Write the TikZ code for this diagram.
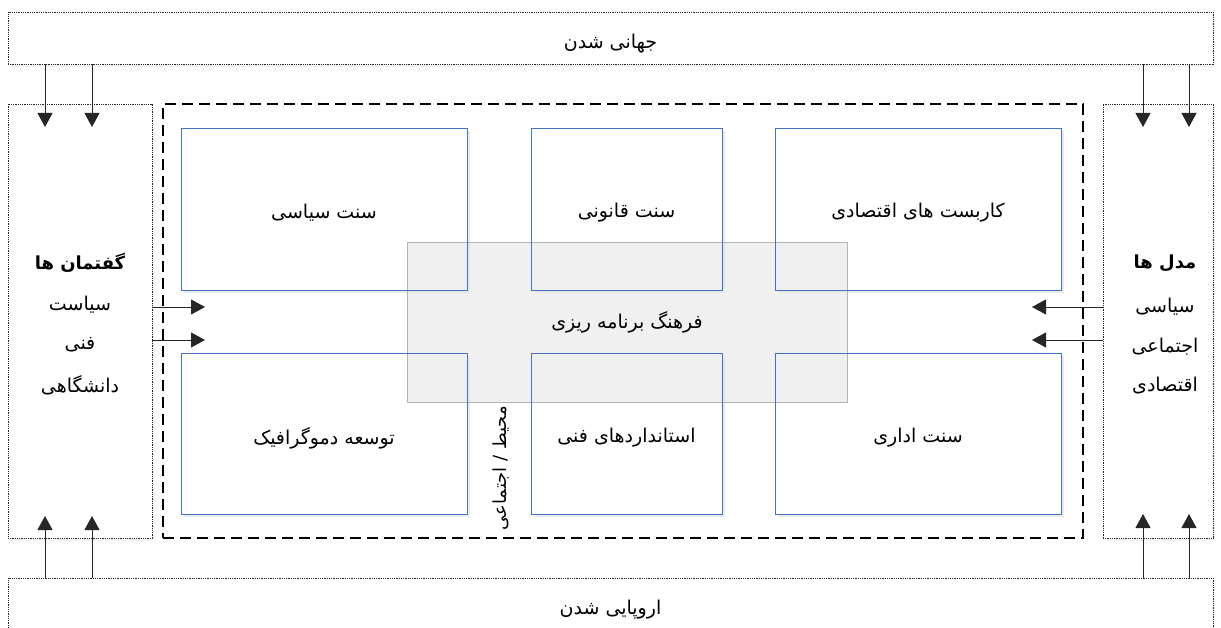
\documentclass[tikz,border=0pt]{standalone}
\usepackage{fontspec}
\newfontfamily\fa[Script=Arabic]{DejaVu Sans}
\TeXXeTstate=1
\usetikzlibrary{arrows.meta,shadows}
\newcommand\prs[1]{{\fa\beginR #1\endR}}
\definecolor{boxblue}{HTML}{4472C4}
\tikzset{
  outerbox/.style={draw=black!85, line width=0.8pt, dash pattern=on 0.9pt off 0.9pt, fill=white,
    drop shadow={opacity=0.10, shadow xshift=2pt, shadow yshift=-3pt}, inner sep=0pt},
  framebox/.style={draw=black, line width=1.8pt, dash pattern=on 11pt off 6pt},
  bluebox/.style={draw=boxblue, line width=0.9pt, fill=white, outer sep=0pt,
    drop shadow={opacity=0.16, shadow xshift=3pt, shadow yshift=-3pt}, inner sep=0pt},
  blueline/.style={draw=boxblue, line width=0.9pt},
  graybox/.style={draw=black!30, line width=0.9pt, fill=black!11, fill opacity=0.55, text opacity=1, inner sep=0pt},
  lbl/.style={font=\fontsize{19}{22}\selectfont, inner sep=0pt},
  blbl/.style={font=\fontsize{18}{21}\selectfont\bfseries, inner sep=0pt},
  arr/.style={line width=0.9pt, draw=black!85, -{Triangle[width=15pt,length=14pt]}},
}
\begin{document}
\begin{tikzpicture}[x=1pt,y=-1pt]
\useasboundingbox (0,0) rectangle (1221,628);
% outer boxes
\node[outerbox, minimum width=1205pt, minimum height=52pt] (glob) at (610.5,38) {};
\node[lbl] (globt) at (610.5,44) {\prs{جهانی شدن}};
\node[outerbox, minimum width=1205pt, minimum height=70pt] (euro) at (610.5,613) {};
\node[lbl] (eurot) at (610.5,610) {\prs{اروپایی شدن}};
\node[outerbox, minimum width=144pt, minimum height=434pt] (lbox) at (80,321) {};
\node[outerbox, minimum width=110pt, minimum height=434pt] (rbox) at (1158,321) {};
% dashed frame
\node[framebox, minimum width=920pt, minimum height=434pt, inner sep=0pt] (frame) at (623,321) {};
% blue boxes
\node[bluebox, minimum width=286pt, minimum height=162pt] (b1) at (324,209) {};
\node[bluebox, minimum width=191pt, minimum height=162pt] (b2) at (626.5,209) {};
\node[bluebox, minimum width=286pt, minimum height=162pt] (b3) at (918,209) {};
\node[bluebox, minimum width=286pt, minimum height=161pt] (b4) at (324,433.5) {};
\node[bluebox, minimum width=191pt, minimum height=161pt] (b5) at (626.5,433.5) {};
\node[bluebox, minimum width=286pt, minimum height=161pt] (b6) at (918,433.5) {};
\node[lbl] (t1) at (324,213) {\prs{سنت سیاسی}};
\node[lbl] (t2) at (626.5,213) {\prs{سنت قانونی}};
\node[lbl] (t3) at (918,213) {\prs{کاربست های اقتصادی}};
\node[lbl] (t4) at (324,438) {\prs{توسعه دموگرافیک}};
\node[lbl] (t5) at (626.5,438) {\prs{استانداردهای فنی}};
\node[lbl] (t6) at (918,438) {\prs{سنت اداری}};
% gray overlay
\node[graybox, minimum width=440pt, minimum height=160pt] (gray) at (627,322) {};
\foreach \b in {b1,b2,b3,b4,b5,b6} \draw[blueline] (\b.south west) rectangle (\b.north east);
\node[lbl] (grayt) at (627,322) {\prs{فرهنگ برنامه ریزی}};
% vertical label
\node[lbl, rotate=90, font=\fontsize{18}{21}\selectfont] (env) at (501,468) {\prs{محیط / اجتماعی}};
% side texts
\node[blbl] (lh) at (80,263) {\prs{گفتمان ها}};
\node[lbl] (l1) at (80,305) {\prs{سیاست}};
\node[lbl] (l2) at (80,345) {\prs{فنی}};
\node[lbl] (l3) at (80,385) {\prs{دانشگاهی}};
\node[blbl] (rh) at (1165,263) {\prs{مدل ها}};
\node[lbl] (r1) at (1165,307) {\prs{سیاسی}};
\node[lbl] (r2) at (1165,347) {\prs{اجتماعی}};
\node[lbl] (r3) at (1165,386) {\prs{اقتصادی}};
% arrow end coordinates
\coordinate (d1) at (45,127);
\coordinate (d2) at (92,127);
\coordinate (d3) at (1143,127);
\coordinate (d4) at (1189,127);
\coordinate (u1) at (45,516);
\coordinate (u2) at (92,516);
\coordinate (u3) at (1143,514);
\coordinate (u4) at (1189,514);
\coordinate (h1) at (205,307);
\coordinate (h2) at (205,340);
\coordinate (h3) at (1032,307);
\coordinate (h4) at (1032,340);
\foreach \c in {d1,d2,d3,d4} \draw[arr] (\c |- glob.south) -- (\c);
\foreach \c in {u1,u2,u3,u4} \draw[arr] (\c |- euro.north) -- (\c);
\foreach \c in {h1,h2} \draw[arr] (\c -| lbox.east) -- (\c);
\foreach \c in {h3,h4} \draw[arr] (\c -| rbox.west) -- (\c);
\end{tikzpicture}
\end{document}
